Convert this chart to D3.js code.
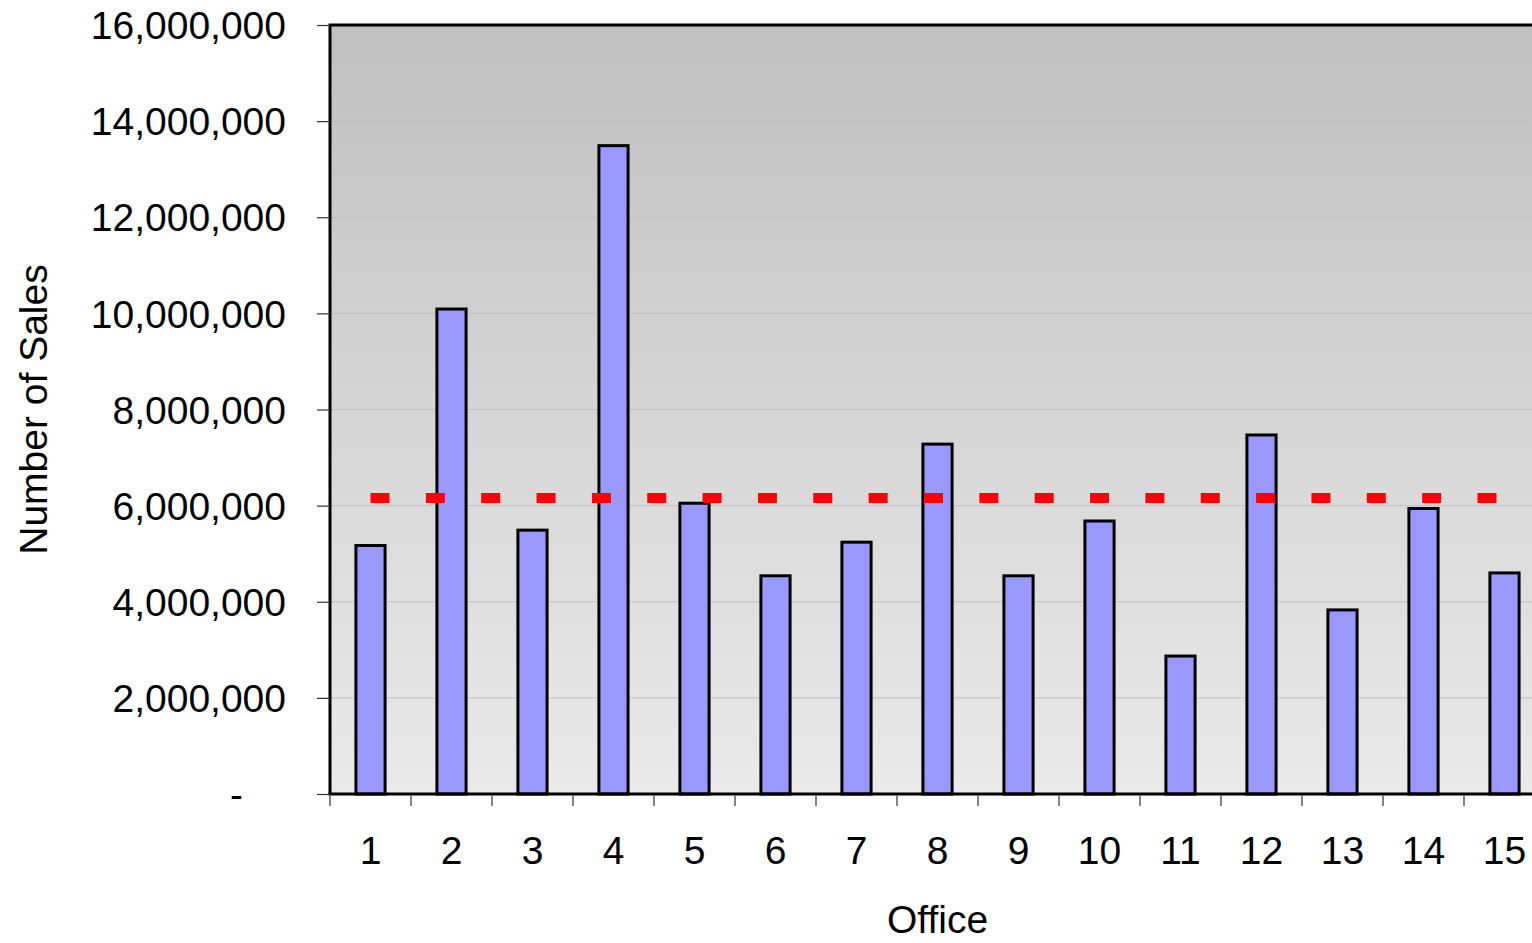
<!DOCTYPE html>
<html>
<head>
<meta charset="utf-8">
<script src="https://cdn.jsdelivr.net/npm/d3@7"></script>
<style>
  body { margin: 0; background: #fff; }
  svg { display: block; }
  text { font-family: "Liberation Sans", Arial, Helvetica, sans-serif; fill: #000; }
</style>
</head>
<body>
<svg id="chart" width="1532" height="943"></svg>
<script>
// Sales per office
const offices = ["1", "2", "3", "4", "5", "6", "7", "8", "9", "10", "11", "12", "13", "14", "15"];
const sales = [5170000, 10090000, 5490000, 13490000, 6050000, 4540000, 5240000, 7280000,
               4540000, 5680000, 2870000, 7470000, 3830000, 5940000, 4600000];
// Average across all offices (drawn as the dashed reference line)
const averageSales = 6160000;
const yTickValues = [0, 2000000, 4000000, 6000000, 8000000, 10000000, 12000000, 14000000, 16000000];

const svg = d3.select("#chart");
const fontSize = "39px";

const plot = { left: 330, top: 25, right: 1545, bottom: 794 };

const x = d3.scaleBand().domain(offices).range([plot.left, plot.right]);
const y = d3.scaleLinear().domain([0, 16000000]).range([plot.bottom, plot.top]);

// Plot-area gradient
const defs = svg.append("defs");
const grad = defs.append("linearGradient")
  .attr("id", "plotBg").attr("x1", 0).attr("y1", 0).attr("x2", 0).attr("y2", 1);
grad.append("stop").attr("offset", "0%").attr("stop-color", "#c0c0c0");
grad.append("stop").attr("offset", "100%").attr("stop-color", "#eaeaea");

svg.append("rect")
  .attr("x", plot.left).attr("y", plot.top)
  .attr("width", plot.right - plot.left).attr("height", plot.bottom - plot.top)
  .attr("fill", "url(#plotBg)");

// Horizontal gridlines
svg.append("g").selectAll("line")
  .data(yTickValues.slice(1, -1))
  .join("line")
  .attr("x1", plot.left).attr("x2", plot.right)
  .attr("y1", d => y(d)).attr("y2", d => y(d))
  .attr("stroke", "#c0c0c0").attr("stroke-width", 1);

// Plot-area frame (left and top edges)
svg.append("path")
  .attr("d", `M${plot.left},${plot.bottom} V${plot.top} H${plot.right} V${plot.bottom}`)
  .attr("fill", "none").attr("stroke", "#000").attr("stroke-width", 3);

// Bars
const barW = x.bandwidth() * 0.36;
svg.append("g").selectAll("rect")
  .data(sales)
  .join("rect")
  .attr("x", (d, i) => x(offices[i]) + x.bandwidth() / 2 - barW / 2)
  .attr("y", d => y(d))
  .attr("width", barW)
  .attr("height", d => y(0) - y(d))
  .attr("fill", "#9999ff")
  .attr("stroke", "#000")
  .attr("stroke-width", 3);

// X-axis base line
svg.append("line")
  .attr("x1", plot.left - 1.5).attr("x2", plot.right)
  .attr("y1", y(0)).attr("y2", y(0))
  .attr("stroke", "#000").attr("stroke-width", 3);

// Category boundary ticks
svg.append("g").selectAll("line")
  .data(offices)
  .join("line")
  .attr("x1", d => x(d)).attr("x2", d => x(d))
  .attr("y1", y(0) + 1.5).attr("y2", y(0) + 12)
  .attr("stroke", "#333").attr("stroke-width", 1.2);

// Average reference line
const avgLine = d3.line()
  .x(d => x(d) + x.bandwidth() / 2)
  .y(() => y(averageSales));
svg.append("path")
  .datum([offices[0], offices[offices.length - 1]])
  .attr("d", avgLine)
  .attr("fill", "none")
  .attr("stroke", "#ff0000")
  .attr("stroke-width", 10)
  .attr("stroke-dasharray", "19 36.35");

// Y axis
const fmt = d3.format(",");
const yAxis = d3.axisLeft(y)
  .tickValues(yTickValues)
  .tickSize(13)
  .tickPadding(31)
  .tickFormat(d => d === 0 ? "-" : fmt(d));
const gy = svg.append("g")
  .attr("transform", `translate(${plot.left},0)`)
  .call(yAxis);
gy.select(".domain").remove();
gy.selectAll(".tick line").attr("stroke", "#333").attr("stroke-width", 1.2);
gy.selectAll(".tick text")
  .style("font-size", fontSize)
  .attr("dy", "0.35em")
  .attr("fill", "#000");
gy.selectAll(".tick").filter(d => d === 0).select("text").attr("dx", -43);

// X axis labels
const xAxis = d3.axisBottom(x).tickSize(0).tickPadding(0);
const gx = svg.append("g")
  .attr("transform", `translate(0,${plot.bottom})`)
  .call(xAxis);
gx.select(".domain").remove();
gx.selectAll(".tick text")
  .style("font-size", fontSize)
  .attr("y", 70)
  .attr("dy", 0)
  .attr("fill", "#000");

// Axis titles
svg.append("text")
  .attr("x", (plot.left + plot.right) / 2)
  .attr("y", 933)
  .attr("text-anchor", "middle")
  .style("font-size", fontSize)
  .text("Office");

svg.append("text")
  .attr("transform", `translate(47,${(plot.top + plot.bottom) / 2}) rotate(-90)`)
  .attr("text-anchor", "middle")
  .style("font-size", fontSize)
  .text("Number of Sales");
</script>
</body>
</html>
